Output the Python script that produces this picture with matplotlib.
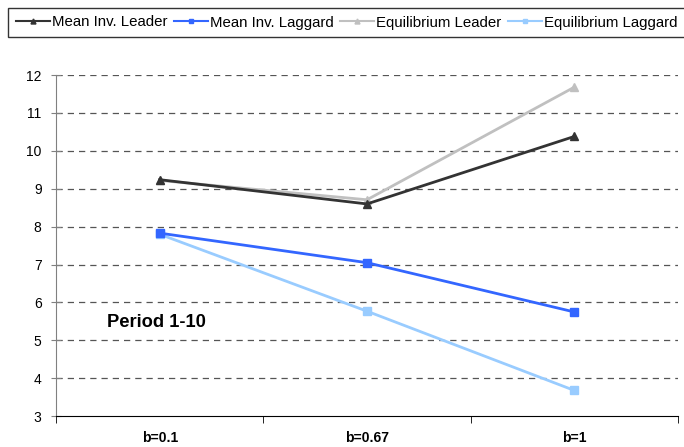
import matplotlib
matplotlib.use('Agg')
import matplotlib.pyplot as plt

plt.rcParams['font.family'] = ['Liberation Sans', 'DejaVu Sans']

categories = ['b=0.1', 'b=0.67', 'b=1']
mean_leader = [9.24, 8.60, 10.38]
mean_laggard = [7.83, 7.05, 5.75]
eq_leader = [9.22, 8.71, 11.68]
eq_laggard = [7.80, 5.77, 3.68]

fig = plt.figure(figsize=(6.84, 4.47), dpi=100)
ax = fig.add_axes([0.082, 0.069, 0.909, 0.763])

x = list(range(len(categories)))
ax.plot(x, eq_leader, color='#C0C0C0', marker='^', ms=6, lw=2, label='Equilibrium Leader', zorder=3)
ax.plot(x, mean_leader, color='#333333', marker='^', ms=6, lw=2, label='Mean Inv. Leader', zorder=4)
ax.plot(x, eq_laggard, color='#99CCFF', marker='s', ms=6, lw=2, label='Equilibrium Laggard', zorder=3)
ax.plot(x, mean_laggard, color='#3366FF', marker='s', ms=6, lw=2, label='Mean Inv. Laggard', zorder=4)

ax.set_xlim(-0.5, len(categories) - 0.5)
ax.set_ylim(3, 12)
ax.set_yticks(range(3, 13))
ax.set_xticks(x)
ax.set_xticklabels(categories, fontweight='bold', fontsize=10)
ax.tick_params(axis='x', length=0, pad=11)
ax.set_xticks([-0.5, 0.5, 1.5, 2.5], minor=True)
ax.tick_params(axis='x', which='minor', length=5, color='black')
ax.tick_params(axis='y', labelsize=10, length=7, direction='inout', color='#808080', pad=7)
for v in range(4, 13):
    ax.axhline(v, color='#555555', lw=0.9, ls=(0, (5, 4)), zorder=1)

ax.spines['top'].set_visible(False)
ax.spines['right'].set_visible(False)
ax.spines['left'].set_color('#808080')
ax.spines['bottom'].set_color('black')

ax.text(-0.255, 5.48, 'Period 1-10', fontsize=13.2, fontweight='bold', va='center')

handles, labels = ax.get_legend_handles_labels()
order = [1, 3, 0, 2]
leg = fig.legend([handles[i] for i in order], [labels[i] for i in order],
                 loc='upper left', bbox_to_anchor=(8 / 684, 1 - 8 / 447), ncol=4, fontsize=10.8,
                 frameon=True, fancybox=False, edgecolor='black', handlelength=2.3,
                 handletextpad=0.12, columnspacing=0.42, borderpad=0.5, borderaxespad=0,
                 markerscale=0.6)
leg.get_frame().set_linewidth(1.0)
for line in leg.get_lines():
    line.set_linewidth(1.5)

plt.savefig('out.png', dpi=100)
plt.close()
